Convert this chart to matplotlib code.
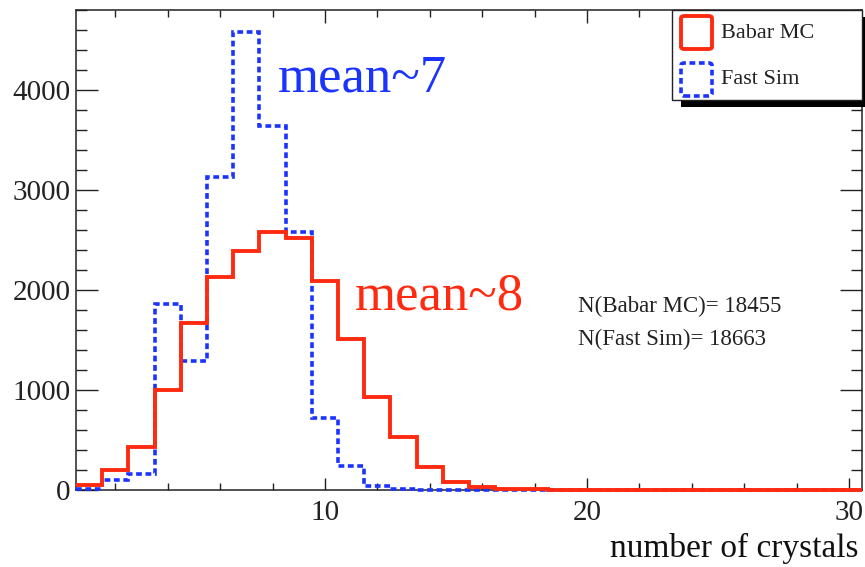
import numpy as np
import matplotlib
matplotlib.use("Agg")
import matplotlib.pyplot as plt
from matplotlib.patches import Rectangle, FancyBboxPatch

plt.rcParams["font.family"] = ["Liberation Serif", "DejaVu Serif"]

# Histogram bins: crystal multiplicity 1..30 (unit-width bins)
bin_edges = np.arange(0.5, 31.5, 1.0)
babar_mc = [50, 200, 430, 1000, 1670, 2130, 2390, 2580, 2520, 2090,
            1510, 930, 530, 230, 80, 30, 15, 8, 4, 2,
            1, 0, 0, 0, 0, 0, 0, 0, 0, 0]
fast_sim = [15, 105, 160, 1860, 1290, 3130, 4580, 3640, 2580, 720,
            240, 40, 12, 5, 2, 0, 0, 0, 0, 0,
            0, 0, 0, 0, 0, 0, 0, 0, 0, 0]
series_names = ["Babar MC", "Fast Sim"]
entries = [18455, 18663]
mean_labels = ["mean~8", "mean~7"]
x_label = "number of crystals"

RED = "#ff2a10"
BLUE = "#1a33ff"

W, H = 865, 567
fig = plt.figure(figsize=(W / 100, H / 100), dpi=100)
ax = fig.add_axes([76 / W, 1 - 490 / H, (862 - 76) / W, (490 - 10) / H])

ax.stairs(fast_sim, bin_edges, color=BLUE, lw=2.6, linestyle=(0, (1.6, 1.0)),
          baseline=None, zorder=4, clip_on=False)
ax.stairs(babar_mc, bin_edges, color=RED, lw=2.8, baseline=None,
          zorder=5, clip_on=False)

ax.set_xlim(0.5, 30.5)
ax.set_ylim(0, 4800)
ax.set_xticks([10, 20, 30])
ax.set_xticks(np.arange(2, 31, 2), minor=True)
ax.set_yticks([0, 1000, 2000, 3000, 4000])
ax.set_yticks(np.arange(0, 4801, 200), minor=True)

ax.tick_params(axis="both", which="both", direction="in", top=True, right=True,
               width=1.0, labelsize=21, colors="#222222")
ax.tick_params(axis="y", which="major", length=16, pad=4)
ax.tick_params(axis="y", which="minor", length=8)
ax.tick_params(axis="x", which="major", length=9, pad=7)
ax.tick_params(axis="x", which="minor", length=5)
for s in ax.spines.values():
    s.set_linewidth(1.1)
    s.set_color("#222222")

# Mean annotations
fig.text(278 / W, 1 - 78 / H, mean_labels[1], color=BLUE, fontsize=38,
         ha="left", va="center")
fig.text(355 / W, 1 - 296 / H, mean_labels[0], color=RED, fontsize=38,
         ha="left", va="center")

# Entry counts
for i, (name, n) in enumerate(zip(series_names, entries)):
    fig.text(578 / W, 1 - (306 + 33 * i) / H, f"N({name})= {n}",
             color="#222222", fontsize=16.5, ha="left", va="center")

# Axis title
fig.text(858 / W, 1 - 557 / H, x_label, fontsize=24, ha="right",
         va="baseline", color="#111111")

# Legend box with drop shadow
def fig_rect(x0, y0, x1, y1, **kw):
    return Rectangle((x0 / W, 1 - y1 / H), (x1 - x0) / W, (y1 - y0) / H,
                     transform=fig.transFigure, **kw)

fig.patches.append(fig_rect(681, 17, 866, 107, facecolor="black",
                            edgecolor="none", zorder=10))
fig.patches.append(fig_rect(672, 10, 862, 100, facecolor="white",
                            edgecolor="#222222", lw=1.0, zorder=11))
handle_styles = [dict(edgecolor=RED, lw=2.8, linestyle="-"),
                 dict(edgecolor=BLUE, lw=2.6, linestyle=(0, (1.6, 1.0)))]
for i, (name, st) in enumerate(zip(series_names, handle_styles)):
    y0 = 16 + 47 * i
    fig.patches.append(FancyBboxPatch(
        (681 / W, 1 - (y0 + 33) / H), 31 / W, 33 / H,
        boxstyle="round,pad=0,rounding_size=0.004",
        transform=fig.transFigure, facecolor="none", zorder=12, **st))
    fig.text(721 / W, 1 - (y0 + 17) / H, name, fontsize=16, ha="left",
             va="center", color="#222222", zorder=13)

fig.savefig("out.png", dpi=100)
